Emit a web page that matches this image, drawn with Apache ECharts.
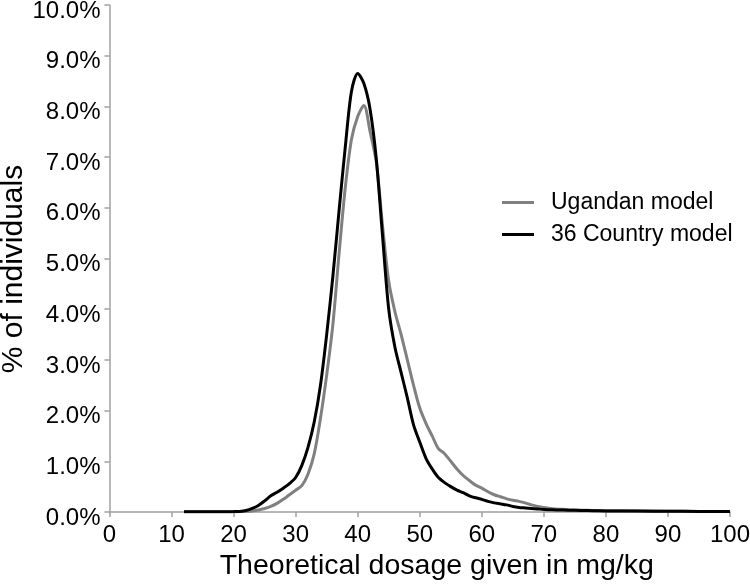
<!DOCTYPE html>
<html>
<head>
<meta charset="utf-8">
<script src="https://cdn.jsdelivr.net/npm/echarts@6/dist/echarts.min.js"></script>
<style>
html,body{margin:0;padding:0;background:#fff;}
#chart{width:750px;height:584px;}
</style>
</head>
<body>
<div id="chart"></div>
<script>
// Dosage (mg/kg)
const dosage = [12,13,14,15,16,17,18,19,20,21,22,23,24,25,26,27,28,29,30,31,32,33,34,35,36,37,38,39,40,41,42,43,44,45,46,47,48,49,50,51,52,53,54,55,56,57,58,59,60,61,62,63,64,65,66,67,68,69,70,71,72,74,76,78,80,85,90,95,100];
// % of individuals, Ugandan model
const ugandan = [0.003,0.003,0.003,0.003,0.003,0.003,0.004,0.005,0.006,0.008,0.012,0.02,0.04,0.07,0.11,0.17,0.25,0.34,0.43,0.52,0.75,1.15,1.85,2.7,3.7,5.1,6.4,7.35,7.8,8.02,7.5,6.9,5.65,4.55,3.95,3.5,3.0,2.5,2.05,1.75,1.5,1.25,1.15,1.0,0.85,0.72,0.62,0.53,0.47,0.4,0.34,0.3,0.26,0.23,0.21,0.18,0.14,0.11,0.09,0.07,0.06,0.045,0.035,0.03,0.025,0.02,0.015,0.012,0.01];
// % of individuals, 36 Country model
const country36 = [0.003,0.003,0.003,0.003,0.003,0.004,0.005,0.006,0.008,0.012,0.03,0.07,0.13,0.22,0.32,0.39,0.47,0.56,0.68,0.92,1.28,1.78,2.5,3.5,4.65,5.95,7.2,8.3,8.65,8.45,7.94,6.96,5.45,4.0,3.25,2.75,2.25,1.72,1.38,1.06,0.85,0.68,0.58,0.5,0.43,0.38,0.32,0.28,0.25,0.21,0.18,0.16,0.14,0.11,0.09,0.08,0.07,0.06,0.05,0.045,0.04,0.035,0.03,0.025,0.02,0.018,0.015,0.012,0.01];
const yTicks = [0,1,2,3,4,5,6,7,8,9,10];

const pairs = (ys) => dosage.map((x, i) => [x, ys[i]]);
const font = 'Liberation Sans, Arial, sans-serif';

const chart = echarts.init(document.getElementById('chart'), null, {renderer: 'canvas'});
chart.setOption({
  animation: false,
  backgroundColor: '#fff',
  grid: {left: 109.5, right: 20, top: 5, bottom: 72, containLabel: false, outerBoundsMode: 'none'},
  legend: {
    orient: 'vertical',
    left: 497, top: 186,
    padding: 5,
    itemWidth: 32, itemHeight: 3, itemGap: 9,
    icon: 'rect',
    textStyle: {fontFamily: font, fontSize: 23, color: '#000', padding: [0, 0, 0, 12]},
    data: ['Ugandan model', '36 Country model']
  },
  xAxis: {
    type: 'value', min: 0, max: 100, interval: 10,
    name: 'Theoretical dosage given in mg/kg',
    nameLocation: 'middle', nameGap: 40, nameMoveOverlap: false,
    nameTextStyle: {fontFamily: font, fontSize: 28.5, color: '#000', verticalAlign: 'top', padding: [0, 0, 0, 34]},
    axisLine: {show: true, lineStyle: {color: '#a0a0a0', width: 1.5}},
    axisTick: {show: true, length: 5, lineStyle: {color: '#a0a0a0', width: 1.5}},
    axisLabel: {fontFamily: font, fontSize: 24, color: '#000', margin: 11},
    splitLine: {show: false}
  },
  yAxis: {
    type: 'value', min: 0, max: 10, interval: 1,
    name: '% of individuals',
    nameLocation: 'middle', nameGap: 81, nameMoveOverlap: false,
    nameTextStyle: {fontFamily: font, fontSize: 30, color: '#000', padding: [0, 21, 0, 0]},
    axisLine: {show: true, lineStyle: {color: '#a0a0a0', width: 1.5}},
    axisTick: {show: true, length: 5, lineStyle: {color: '#a0a0a0', width: 1.5}},
    axisLabel: {fontFamily: font, fontSize: 24, color: '#000', margin: 9,
      verticalAlign: 'top', lineHeight: 12,
      formatter: (v) => v.toFixed(1) + '%'},
    splitLine: {show: false}
  },
  series: [
    {name: 'Ugandan model', type: 'line', data: pairs(ugandan), showSymbol: false, smooth: 0.3,
     lineStyle: {color: '#808080', width: 3}, itemStyle: {color: '#808080'}, z: 2},
    {name: '36 Country model', type: 'line', data: pairs(country36), showSymbol: false, smooth: 0.3,
     lineStyle: {color: '#000000', width: 3}, itemStyle: {color: '#000000'}, z: 3}
  ]
});
</script>
</body>
</html>
